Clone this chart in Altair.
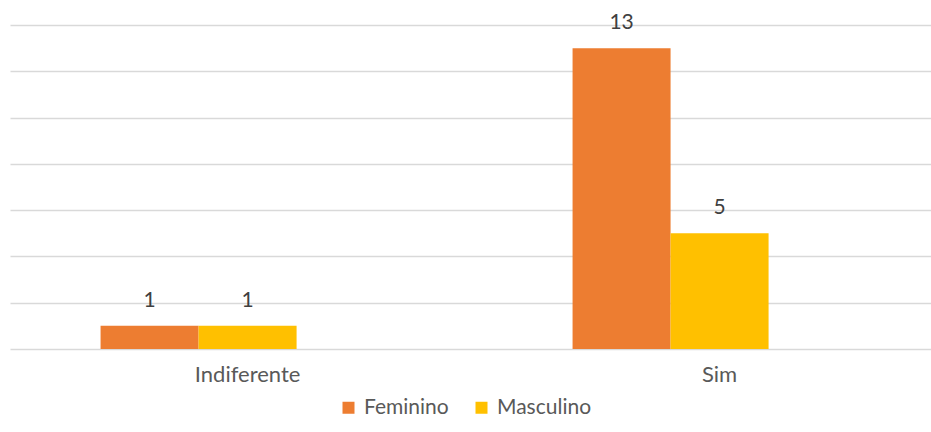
import altair as alt
import pandas as pd

categories = ["Indiferente", "Sim"]
series = ["Feminino", "Masculino"]
feminino = [1, 13]
masculino = [1, 5]
colors = ["#ED7D31", "#FFC000"]
y_ticks = [0, 2, 4, 6, 8, 10, 12, 14]

rows = []
for i, c in enumerate(categories):
    rows.append({"Resposta": c, "Sexo": series[0], "Valor": feminino[i]})
    rows.append({"Resposta": c, "Sexo": series[1], "Valor": masculino[i]})
df = pd.DataFrame(rows)

FONT = "Lato"

x = alt.X(
    "Resposta:N",
    sort=categories,
    title=None,
    scale=alt.Scale(paddingInner=0.5847, paddingOuter=0.268, align=0.358),
    axis=alt.Axis(
        labelAngle=0, labelOffset=49, domain=False, ticks=False, grid=False,
        labelPadding=15, labelFontSize=22, labelColor="#595959", labelFont=FONT,
    ),
)
xo = alt.XOffset("Sexo:N", sort=series, scale=alt.Scale(paddingInner=0, paddingOuter=0))
y = alt.Y(
    "Valor:Q",
    title=None,
    scale=alt.Scale(domain=[0, 14], nice=False),
    axis=alt.Axis(values=y_ticks, labels=False, ticks=False, domain=False,
                  gridColor="#d9d9d9", gridWidth=1.5),
)

bars = alt.Chart(df).mark_bar().encode(
    x=x, xOffset=xo, y=y,
    color=alt.Color(
        "Sexo:N", sort=series, title=None,
        scale=alt.Scale(domain=series, range=colors),
        legend=alt.Legend(
            orient="none", direction="horizontal", legendX=328, legendY=372,
            symbolType="square", symbolSize=144, symbolStrokeWidth=0,
            labelFontSize=21, labelFont=FONT, labelColor="#595959",
            labelOffset=5, columnPadding=22, padding=0,
        ),
    ),
)

labels = alt.Chart(df).mark_text(
    baseline="bottom", dy=-15, fontSize=21, font=FONT, color="#404040"
).encode(x=x, xOffset=xo, y=y, text="Valor:Q")

chart = (bars + labels).properties(
    width=921, height=324,
    autosize=alt.AutoSizeParams(type="none"),
    padding={"left": 10, "top": 25, "right": 0, "bottom": 74},
).configure(background="white").configure_view(stroke=None, strokeWidth=0)

chart.save("out.html", embed_options={"renderer": "svg", "actions": False})
